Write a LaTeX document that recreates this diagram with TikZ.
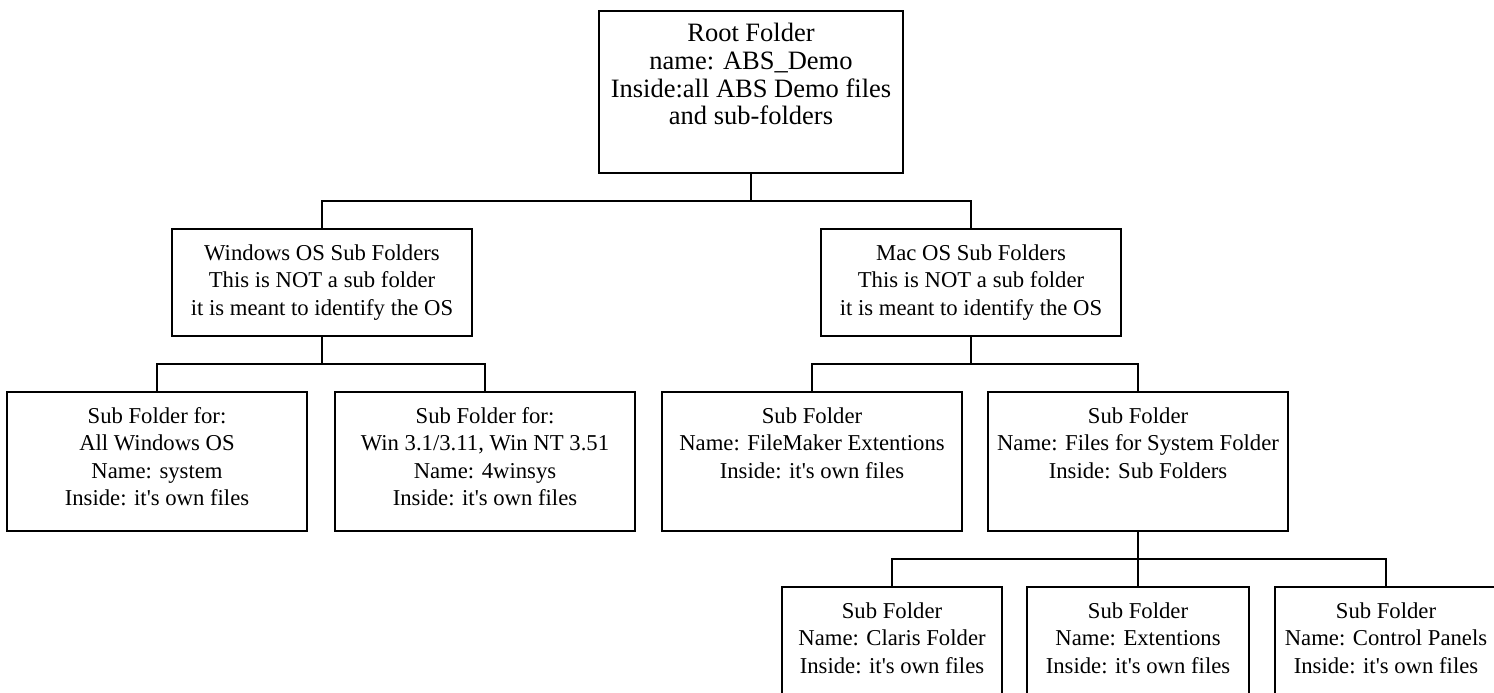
\documentclass[tikz,border=0pt]{standalone}
\usepackage{fontspec}
\setmainfont{Liberation Serif}
\usetikzlibrary{calc}
\newcommand{\bxt}[4]{\begin{minipage}[t][#2][t]{#1}\centering\fontsize{#3}{27.6pt}\selectfont\rule{0pt}{31pt}#4\end{minipage}}
\newcommand{\ap}{\textquotesingle}
\tikzset{
  box/.style={draw=black, line width=1.9pt, inner sep=0pt, outer sep=0pt, fill=white, anchor=north west},
  conn/.style={draw=black, line width=1.9pt},
}
\begin{document}
\begin{tikzpicture}[x=1pt,y=-1pt]
\useasboundingbox (0,0) rectangle (1494,693);
\clip (0,0) rectangle (1494,693);
\fill[white] (0,0) rectangle (1494,693);
% root
\node[box] (root) at (599,11) {\bxt{304pt}{162pt}{26.5pt}{Root Folder\\name: ABS\_Demo\\Inside:all ABS Demo files\\and sub-folders}};
% level 2
\node[box] (win) at (172,229) {\bxt{300pt}{107pt}{22.7pt}{Windows OS Sub Folders\\This is NOT a sub folder\\it is meant to identify the OS}};
\node[box] (mac) at (821,229) {\bxt{300pt}{107pt}{22.7pt}{Mac OS Sub Folders\\This is NOT a sub folder\\it is meant to identify the OS}};
% level 3
\node[box] (w1) at (7,392) {\bxt{300pt}{139pt}{22.7pt}{Sub Folder for:\\All Windows OS\\Name: system\\Inside: it\ap s own files}};
\node[box] (w2) at (335,392) {\bxt{300pt}{139pt}{22.7pt}{Sub Folder for:\\Win 3.1/3.11, Win NT 3.51\\Name: 4winsys\\Inside: it\ap s own files}};
\node[box] (m1) at (662,392) {\bxt{300pt}{139pt}{22.7pt}{Sub Folder\\Name: FileMaker Extentions\\Inside: it\ap s own files}};
\node[box] (m2) at (988,392) {\bxt{300pt}{139pt}{22.7pt}{Sub Folder\\Name: Files for System Folder\\Inside: Sub Folders}};
% level 4
\node[box] (b1) at (782,587) {\bxt{220pt}{139pt}{22.7pt}{Sub Folder\\Name: Claris Folder\\Inside: it\ap s own files}};
\node[box] (b2) at (1027,587) {\bxt{222pt}{139pt}{22.7pt}{Sub Folder\\Name: Extentions\\Inside: it\ap s own files}};
\node[box] (b3) at (1275,587) {\bxt{222pt}{139pt}{22.7pt}{Sub Folder\\Name: Control Panels\\Inside: it\ap s own files}};
% connectors
\draw[conn] (root.south) |- ($(win.north)+(0,-28)$) -- (win.north);
\draw[conn] (root.south) |- ($(mac.north)+(0,-28)$) -- (mac.north);
\draw[conn] (win.south) |- ($(w1.north)+(0,-28)$) -- (w1.north);
\draw[conn] (win.south) |- ($(w2.north)+(0,-28)$) -- (w2.north);
\draw[conn] (mac.south) |- ($(m1.north)+(0,-28)$) -- (m1.north);
\draw[conn] (mac.south) |- ($(m2.north)+(0,-28)$) -- (m2.north);
\draw[conn] (m2.south) |- ($(b1.north)+(0,-28)$) -- (b1.north);
\draw[conn] (m2.south) -- (b2.north);
\draw[conn] (m2.south) |- ($(b3.north)+(0,-28)$) -- (b3.north);
\end{tikzpicture}
\end{document}
